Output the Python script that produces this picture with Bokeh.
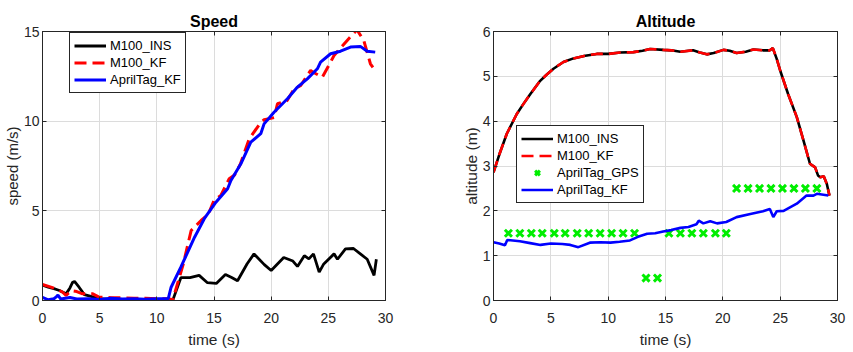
from bokeh.plotting import figure
from bokeh.layouts import row
from bokeh.models import Range1d, LinearAxis, Legend, LegendItem, FixedTicker
from bokeh.embed import file_html
from bokeh.resources import INLINE

# ---------------- Speed data ----------------
ins_speed_t = [0, 0.5, 1.0, 1.48, 2.06, 2.4, 2.64, 2.8, 3.2, 3.66, 4.4, 5.0, 6.0, 7.0, 8.0, 9.0,
               10.0, 11.0, 11.4, 12.1, 12.9, 13.7, 14.4, 15.2, 16.0, 16.5, 17.06, 17.9, 18.5,
               19.4, 20.0, 21.1, 21.9, 22.3, 22.9, 23.3, 23.7, 24.2, 24.6, 25.5, 25.8, 26.5,
               27.2, 27.8, 28.4, 29.0, 29.2]
ins_speed_v = [0.85, 0.75, 0.66, 0.56, 0.37, 0.7, 1.02, 1.06, 0.74, 0.33, 0.2, 0.1, 0.06, 0.05, 0.05,
               0.05, 0.04, 0.04, 0.02, 1.27, 1.27, 1.4, 1.0, 0.95, 1.45, 1.3, 1.1, 2.05, 2.6,
               2.0, 1.67, 2.4, 2.2, 1.9, 2.5, 2.32, 2.6, 1.58, 2.04, 2.6, 2.3, 2.88,
               2.9, 2.6, 2.3, 1.4, 2.3]

kf_speed_t = [0, 0.6, 1.2, 1.77, 2.06, 2.5, 3.0, 3.5, 4.4, 4.9, 6.0, 7.0, 8.0, 9.0, 10.0, 11.0,
              11.4, 12.3, 13.0, 13.87, 14.5, 15.0, 15.6, 16.33, 16.8, 17.3, 18.07, 19.1, 19.38,
              20.26, 20.55, 21.4, 22.0, 22.6, 23.45, 23.75, 24.47, 25.2, 25.5, 26.65, 27.5,
              28.1, 28.68, 28.9]
kf_speed_v = [0.89, 0.77, 0.65, 0.46, 0.28, 0.55, 0.5, 0.37, 0.37, 0.2, 0.15, 0.15, 0.12, 0.12, 0.1, 0.1,
              0.05, 2.0, 3.9, 4.46, 4.8, 5.58, 5.86, 6.79, 7.0, 7.6, 9.0, 9.94, 10.08,
              10.2, 10.97, 11.15, 11.8, 12.0, 12.83, 12.7, 12.45, 13.3, 13.66, 14.5, 15.1,
              14.5, 13.2, 13.0]

tag_speed_t = [0, 0.5, 1.0, 1.2, 1.35, 1.6, 2.4, 3.0, 4.0, 5.0, 6.0, 7.0, 8.0, 9.0, 10.0,
               11.0, 11.25, 12.1, 13.3, 14.15, 15.17, 16.19, 16.48, 17.35, 18.22, 19.09,
               19.38, 20.25, 21.42, 22.3, 23.16, 24.04, 24.32, 25.2, 26.07, 26.94, 27.8,
               28.4, 29.1]
tag_speed_v = [0.17, 0.04, 0.1, 0.2, 0.3, 0.08, 0.17, 0.08, 0.1, 0.06, 0.12, 0.08, 0.1, 0.07, 0.1,
               0.1, 0.74, 1.86, 3.53, 4.56, 5.48, 6.23, 6.69, 7.62, 8.83, 9.3,
               9.85, 10.5, 11.25, 11.9, 12.36, 12.92, 13.29, 13.76, 13.9, 14.13, 14.17,
               13.9, 13.85]

# ---------------- Altitude data ----------------
ins_alt_t = [0, 0.5, 1.16, 2.03, 2.6, 3.2, 4.07, 4.6, 5.23, 6.1, 6.97, 8.0, 9.0, 10.0, 11.05,
             12.2, 13.0, 13.66, 14.8, 15.5, 16.3, 17.4, 18.0, 18.6, 19.2, 20.05, 20.6, 21.2,
             22.0, 22.67, 23.5, 24.1, 24.36, 24.7, 25.0, 25.7, 26.45, 27.0, 27.6, 28.05,
             28.3, 28.5, 28.8, 29.07, 29.3]
ins_alt_h = [2.86, 3.25, 3.72, 4.16, 4.38, 4.6, 4.9, 5.03, 5.17, 5.32, 5.4, 5.46, 5.5, 5.5, 5.53,
             5.54, 5.57, 5.61, 5.59, 5.58, 5.55, 5.58, 5.53, 5.49, 5.52, 5.59, 5.57, 5.52,
             5.55, 5.6, 5.58, 5.58, 5.63, 5.39, 5.13, 4.6, 4.09, 3.6, 3.05, 2.97,
             2.79, 2.75, 2.77, 2.6, 2.34]
kf_alt_t = list(ins_alt_t)
kf_alt_h = list(ins_alt_h)

gps_t = [1.3, 2.3, 3.3, 4.25, 5.3, 6.25, 7.3, 8.3, 9.3, 10.3, 11.3, 12.3, 13.3, 14.3,
         15.3, 16.3, 17.3, 18.3, 19.35, 20.3, 21.2, 22.2, 23.2, 24.2, 25.2, 26.2, 27.2, 28.2]
gps_h = [1.5] * 12 + [0.5] * 2 + [1.5] * 6 + [2.5] * 8

tag_alt_t = [0, 0.5, 1.0, 1.2, 2.3, 3.2, 4.1, 5.0, 6.0, 6.7, 7.4, 8.4, 9.3, 10.2, 11.0, 11.9,
             12.6, 13.4, 14.1, 14.8, 15.5, 16.3, 17.0, 17.7, 17.9, 18.3, 18.9, 19.5, 20.3,
             21.2, 22.4, 23.5, 24.1, 24.4, 24.7, 25.3, 26.45, 27.3, 27.9, 28.2, 29.2]
tag_alt_h = [1.30, 1.27, 1.23, 1.35, 1.32, 1.28, 1.24, 1.27, 1.26, 1.24, 1.19, 1.29, 1.30, 1.29,
             1.31, 1.34, 1.42, 1.49, 1.50, 1.54, 1.57, 1.62, 1.64, 1.70, 1.78, 1.72, 1.77,
             1.72, 1.75, 1.86, 1.93, 1.99, 2.04, 1.86, 1.99, 2.00, 2.16, 2.34, 2.34, 2.38, 2.34]

x_ticks = [0, 5, 10, 15, 20, 25, 30]
speed_ticks = [0, 5, 10, 15]
alt_ticks = [0, 1, 2, 3, 4, 5, 6]

FONT = "Liberation Sans"
AX = "#262626"


def make_fig(title, ylabel, ymax, yticks, width, left, right):
    p = figure(width=width, height=352, output_backend="svg", toolbar_location=None,
               x_range=Range1d(0, 30), y_range=Range1d(0, ymax),
               min_border_left=left, min_border_right=right,
               min_border_top=31, min_border_bottom=52)
    p.title.text = title
    p.title.text_font = FONT
    p.title.text_font_size = "16px"
    p.title.text_font_style = "bold"
    p.title.align = "center"
    p.title.text_color = "black"
    p.title.standoff = 4
    p.outline_line_color = AX
    p.outline_line_alpha = 1
    p.background_fill_color = "white"
    p.border_fill_color = "white"
    for ax, ticks, lab in ((p.xaxis[0], x_ticks, "time (s)"), (p.yaxis[0], yticks, ylabel)):
        ax.ticker = FixedTicker(ticks=ticks)
        ax.axis_label = lab
        ax.axis_label_text_font = FONT
        ax.axis_label_text_font_size = "15.5px"
        ax.axis_label_text_font_style = "normal"
        ax.axis_label_text_color = AX
        ax.major_label_text_font = FONT
        ax.major_label_text_font_size = "14px"
        ax.major_label_text_color = AX
        ax.axis_line_color = AX
        ax.major_tick_line_color = AX
        ax.major_tick_in = 4
        ax.major_tick_out = 0
        ax.minor_tick_line_color = None
    p.xaxis[0].major_label_standoff = 12
    p.xaxis[0].axis_label_standoff = 5
    p.yaxis[0].major_label_standoff = 3
    p.yaxis[0].axis_label_standoff = 0
    for loc, ticks in (("above", x_ticks), ("right", yticks)):
        a = LinearAxis(ticker=FixedTicker(ticks=ticks),
                       major_label_overrides={t: "" for t in ticks},
                       major_label_standoff=0, major_tick_in=4, major_tick_out=0,
                       minor_tick_line_color=None, axis_line_color=AX,
                       major_tick_line_color=AX)
        p.add_layout(a, loc)
    p.xgrid.ticker = FixedTicker(ticks=x_ticks)
    p.ygrid.ticker = FixedTicker(ticks=yticks)
    p.grid.grid_line_color = "#dcdcdc"
    p.grid.grid_line_width = 1
    return p


def style_legend(p, items, loc):
    lg = Legend(items=items, location=loc)
    lg.label_text_font = FONT
    lg.label_text_font_size = "13px"
    lg.label_text_color = "black"
    lg.label_height = 17
    lg.glyph_height = 17
    lg.glyph_width = 32
    lg.label_standoff = 4
    lg.spacing = 0
    lg.padding = 4
    lg.margin = 0
    lg.border_line_color = AX
    lg.border_line_width = 1
    lg.border_line_alpha = 1
    lg.background_fill_color = "white"
    lg.background_fill_alpha = 1
    p.add_layout(lg)


# ---------------- Speed figure ----------------
p1 = make_fig("Speed", "speed (m/s)", 15, speed_ticks, 430, 41, 45)
p1.yaxis[0].axis_label_text_font_size = "15px"
r1 = p1.line(ins_speed_t, ins_speed_v, line_color="black", line_width=2.8)
r2 = p1.line(kf_speed_t, kf_speed_v, line_color="red", line_width=3, line_dash="12 6")
r3 = p1.line(tag_speed_t, tag_speed_v, line_color="blue", line_width=3)
style_legend(p1, [LegendItem(label="M100_INS", renderers=[r1]),
                  LegendItem(label="M100_KF", renderers=[r2]),
                  LegendItem(label="AprilTag_KF", renderers=[r3])], (27, 207))

# ---------------- Altitude figure ----------------
p2 = make_fig("Altitude", "altitude (m)", 6, alt_ticks, 423, 63, 16)
a1 = p2.line(ins_alt_t, ins_alt_h, line_color="black", line_width=2.6)
a2 = p2.line(kf_alt_t, kf_alt_h, line_color="red", line_width=2.6, line_dash="12 6")
a3 = p2.scatter(gps_t, gps_h, marker="x", size=10, line_color="#00ee00", line_width=3)
a4 = p2.line(tag_alt_t, tag_alt_h, line_color="blue", line_width=2.6)
style_legend(p2, [LegendItem(label="M100_INS", renderers=[a1]),
                  LegendItem(label="M100_KF", renderers=[a2]),
                  LegendItem(label="AprilTag_GPS", renderers=[a3]),
                  LegendItem(label="AprilTag_KF", renderers=[a4])], (23, 97))

layout = row(p1, p2)
open("out.html", "w").write(file_html(layout, INLINE))
